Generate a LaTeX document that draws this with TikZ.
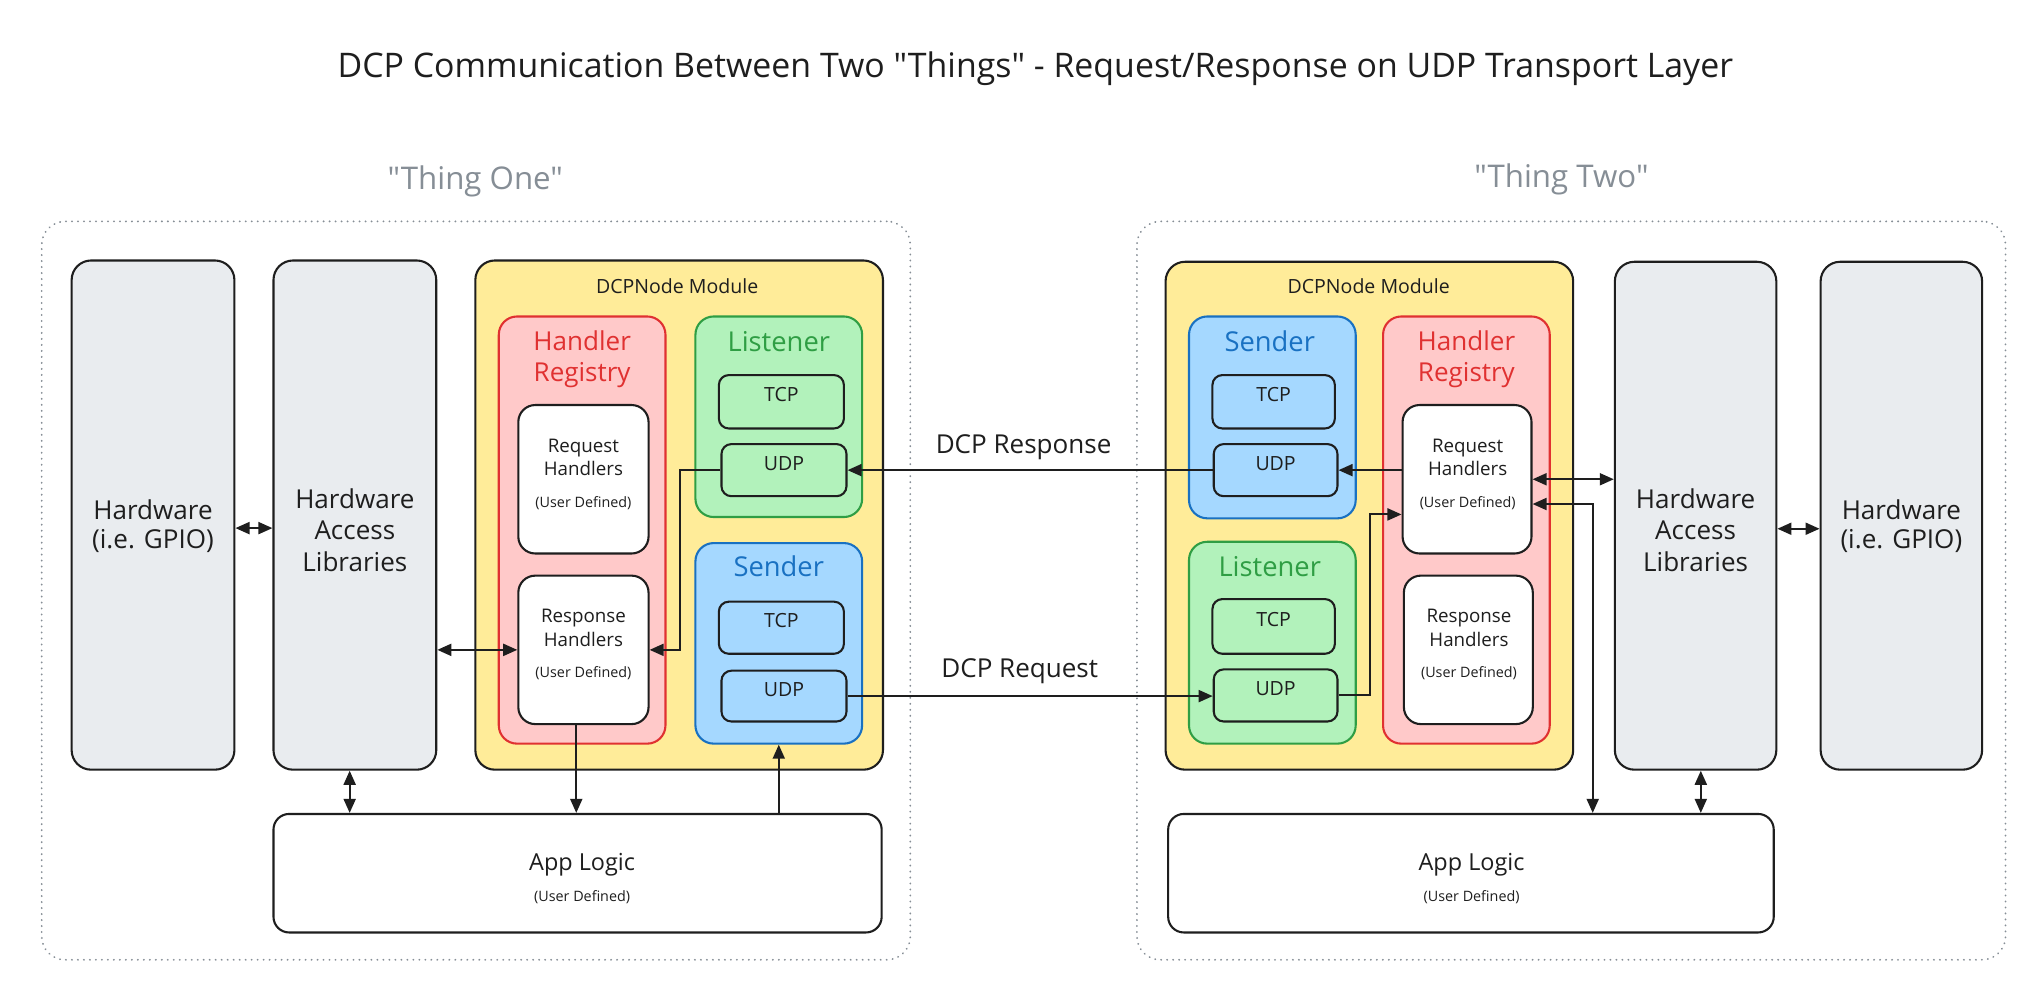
\documentclass[tikz,border=0pt]{standalone}
\usepackage{fontspec}
\setmainfont{Open Sans}[Ligatures=TeXOff]
\usetikzlibrary{arrows.meta,fit,calc}
\definecolor{ink}{HTML}{1E1E1E}
\definecolor{grayfill}{HTML}{E9ECEF}
\definecolor{yel}{HTML}{FFEC99}
\definecolor{redfill}{HTML}{FFC9C9}
\definecolor{redline}{HTML}{E03131}
\definecolor{greenfill}{HTML}{B2F2BB}
\definecolor{greenline}{HTML}{2F9E44}
\definecolor{bluefill}{HTML}{A5D8FF}
\definecolor{blueline}{HTML}{1971C2}
\definecolor{thinggray}{HTML}{868E96}
\tikzset{
  blk/.style={draw=ink, line width=0.8pt, inner sep=0pt},
  graybox/.style={blk, fill=grayfill, rounded corners=7.5pt},
  yelbox/.style={blk, fill=yel, rounded corners=7.5pt},
  regbox/.style={draw=redline, line width=0.8pt, fill=redfill, inner sep=0pt, rounded corners=7pt},
  lisbox/.style={draw=greenline, line width=0.8pt, fill=greenfill, inner sep=0pt, rounded corners=7pt},
  sndbox/.style={draw=blueline, line width=0.8pt, fill=bluefill, inner sep=0pt, rounded corners=7pt},
  whitebox/.style={blk, fill=white, rounded corners=6.5pt},
  protobox/.style={blk, rounded corners=3.8pt, font=\fontsize{7.5}{9}\selectfont, text=ink},
  appbox/.style={blk, fill=white, rounded corners=6pt},
  dotbox/.style={draw=thinggray, line width=0.7pt, dash pattern=on 0.1pt off 2.2pt, line cap=round, rounded corners=9pt, inner sep=0pt},
  lbl/.style={inner sep=0pt, align=center, text=ink},
  biglbl/.style={lbl, font=\fontsize{10}{11}\selectfont},
  hallbl/.style={lbl, font=\fontsize{10}{12}\selectfont},
  grouplbl/.style={lbl, font=\fontsize{10.5}{12}\selectfont},
  reglbl/.style={lbl, text=redline, font=\fontsize{10}{12}\selectfont},
  handlbl/.style={lbl, font=\fontsize{7.2}{9}\selectfont},
  userlbl/.style={lbl, font=\fontsize{5.5}{7}\selectfont},
  modlbl/.style={lbl, font=\fontsize{7.5}{9}\selectfont},
  msglbl/.style={lbl, font=\fontsize{10}{12}\selectfont},
  arr/.style={draw=ink, line width=0.8pt, -{Triangle[length=5.4pt,width=4.6pt]}},
  darr/.style={draw=ink, line width=0.8pt, {Triangle[length=5.4pt,width=4.6pt]}-{Triangle[length=5.4pt,width=4.6pt]}}
}
\begin{document}
\begin{tikzpicture}[x=0.5pt,y=-0.5pt]
\useasboundingbox (0,0) rectangle (1568,768);
\fill[white] (0,0) rectangle (1568,768);

% titles
\node[lbl, font=\fontsize{13}{15}\selectfont] (title) at (795,53) {DCP Communication Between Two "Things" - Request/Response on UDP Transport Layer};
\node[lbl, text=thinggray, font=\fontsize{12}{14}\selectfont] (thingLt) at (365,139) {"Thing One"};
\node[lbl, text=thinggray, font=\fontsize{12}{14}\selectfont] (thingRt) at (1199,138) {"Thing Two"};

% containers
\node[dotbox, fit={(32,170) (699,737)}] (thingL) {};
\node[dotbox, fit={(873,170) (1540,737)}] (thingR) {};

% ===== Thing One =====
\node[graybox, fit={(55,200) (180,591)}] (hwL) {};
\node[graybox, fit={(210,200) (335,591)}] (halL) {};
\node[yelbox, fit={(365,200) (678,591)}] (dcpL) {};
\node[regbox, fit={(383,243) (511,571)}] (regL) {};
\node[whitebox, fit={(398,311) (498,425)}] (reqL) {};
\node[whitebox, fit={(398,442) (498,556)}] (resL) {};
\node[lisbox, fit={(534,243) (662,397)}] (lisL) {};
\node[protobox, fit={(552,288) (648,329)}] (ltcpL) {TCP};
\node[protobox, fit={(554,341) (650,381)}] (ludpL) {UDP};
\node[sndbox, fit={(534,417) (662,571)}] (sndL) {};
\node[protobox, fit={(552,462) (648,502)}] (stcpL) {TCP};
\node[protobox, fit={(554,515) (650,554)}] (sudpL) {UDP};
\node[appbox, fit={(210,625) (677,716)}] (appL) {};

\node[biglbl] (hwLt) at (117.5,404) {Hardware\\(i.e. GPIO)};
\node[hallbl] (halLt) at (272.5,407) {Hardware\\Access\\Libraries};
\node[modlbl] (dcpLt) at (520,220) {DCPNode Module};
\node[reglbl] (regLt) at (447,276) {Handler\\Registry};
\node[handlbl] (reqLt) at (448,351) {Request\\Handlers};
\node[userlbl] (reqLu) at (448,386) {(User Defined)};
\node[handlbl] (resLt) at (448,482) {Response\\Handlers};
\node[userlbl] (resLu) at (448,517) {(User Defined)};
\node[grouplbl, text=greenline] (lisLt) at (598,262) {Listener};
\node[grouplbl, text=blueline] (sndLt) at (598,435) {Sender};
\node[lbl, font=\fontsize{9}{11}\selectfont] (appLt) at (447,664) {App Logic};
\node[userlbl] (appLu) at (447,689) {(User Defined)};

% ===== Thing Two =====
\node[yelbox, fit={(895,201) (1208,591)}] (dcpR) {};
\node[sndbox, fit={(913,243) (1041,398)}] (sndR) {};
\node[protobox, fit={(931,288) (1025,329)}] (stcpR) {TCP};
\node[protobox, fit={(932,341) (1027,381)}] (sudpR) {UDP};
\node[lisbox, fit={(913,416) (1041,571)}] (lisR) {};
\node[protobox, fit={(931,460) (1025,502)}] (ltcpR) {TCP};
\node[protobox, fit={(932,514) (1027,554)}] (ludpR) {UDP};
\node[regbox, fit={(1062,243) (1190,571)}] (regR) {};
\node[whitebox, fit={(1077,311) (1176,425)}] (reqR) {};
\node[whitebox, fit={(1078,442) (1177,556)}] (resR) {};
\node[graybox, fit={(1240,201) (1364,591)}] (halR) {};
\node[graybox, fit={(1398,201) (1522,591)}] (hwR) {};
\node[appbox, fit={(897,625) (1362,716)}] (appR) {};

\node[modlbl] (dcpRt) at (1051,220) {DCPNode Module};
\node[grouplbl, text=blueline] (sndRt) at (975,262) {Sender};
\node[grouplbl, text=greenline] (lisRt) at (975,435) {Listener};
\node[reglbl] (regRt) at (1126,276) {Handler\\Registry};
\node[handlbl] (reqRt) at (1127,351) {Request\\Handlers};
\node[userlbl] (reqRu) at (1127,386) {(User Defined)};
\node[handlbl] (resRt) at (1128,482) {Response\\Handlers};
\node[userlbl] (resRu) at (1128,517) {(User Defined)};
\node[hallbl] (halRt) at (1302,407) {Hardware\\Access\\Libraries};
\node[biglbl] (hwRt) at (1460,404) {Hardware\\(i.e. GPIO)};
\node[lbl, font=\fontsize{9}{11}\selectfont] (appRt) at (1130,664) {App Logic};
\node[userlbl] (appRu) at (1130,689) {(User Defined)};

% ===== connectors: Thing One =====
\draw[darr] ([yshift=-5pt]hwL.east) -- ([yshift=-5pt]halL.west);
\draw[darr] (halL.east |- resL.west) -- (resL.west);
\draw[arr] (ludpL.west) -- ++(-31,0) |- (resL.east);
\draw[arr] ([xshift=-2.75pt]resL.south) -- ([xshift=-2.75pt]resL.south |- appL.north);
\draw[arr] (sndL.south |- appL.north) -- (sndL.south);
\draw[darr] ([xshift=-2pt]halL.south) -- ([xshift=-2pt]halL.south |- appL.north);

% ===== messages =====
\draw[arr] (sudpR.west) -- (sudpR.west -| ludpL.east);
\draw[arr] (sudpL.east) -- (sudpL.east -| ludpR.west);
\node[msglbl] (resp) at (786,343) {DCP Response};
\node[msglbl] (reqm) at (783,515) {DCP Request};

% ===== connectors: Thing Two =====
\draw[arr] (reqR.west |- sudpR.east) -- (sudpR.east);
\draw[arr] (ludpR.east) -- ++(24,0) |- ([yshift=-13.5pt]reqR.west);
\draw[darr] (reqR.east) -- (reqR.east -| halR.west);
\draw[darr] ([yshift=-9.5pt]reqR.east) -| ([xshift=46.75pt]appR.north);
\draw[darr] ([xshift=2pt]halR.south) -- ([xshift=2pt]halR.south |- appR.north);
\draw[darr] ([yshift=-5pt]halR.east) -- ([yshift=-5pt]hwR.west);
\end{tikzpicture}
\end{document}
